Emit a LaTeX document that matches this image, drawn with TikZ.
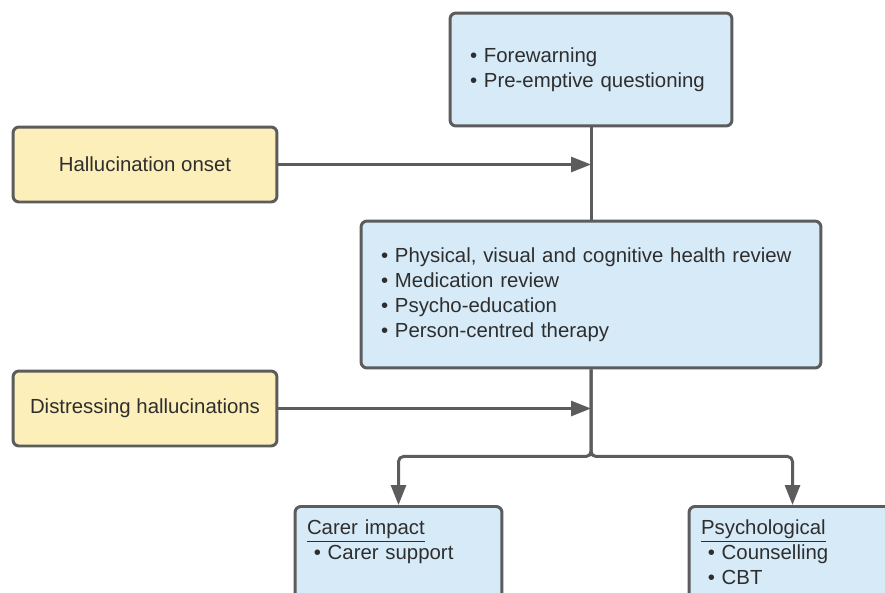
\documentclass[tikz,border=0pt]{standalone}
\usepackage{fontspec}
\setmainfont{Liberation Sans}
\usepackage{tikz}
\usetikzlibrary{arrows.meta,positioning,calc}
\definecolor{boxblue}{HTML}{D6EAF8}
\definecolor{boxyellow}{HTML}{FCEFBA}
\definecolor{edgegray}{HTML}{5C5C5C}
\definecolor{textgray}{HTML}{2E2E2E}
\tikzset{
  basebox/.style={draw=edgegray, line width=1.7pt, rounded corners=0.12cm,
    text=textgray, font=\fontsize{11.6}{14.2}\selectfont},
  bluebox/.style={basebox, fill=boxblue, align=left, inner xsep=0.4cm},
  yellowbox/.style={basebox, fill=boxyellow, align=center,
    minimum width=5.28cm, minimum height=1.5cm},
  outcomebox/.style={bluebox, anchor=north, inner xsep=0.24cm, inner ysep=0.26cm,
    text width=3.66cm, text depth=3cm},
  flow/.style={draw=edgegray, line width=1.7pt},
  flowarrow/.style={flow, -{Triangle[length=0.4cm,width=0.3cm]}, rounded corners=0.1cm},
}
\begin{document}
\begin{tikzpicture}[x=0.02cm,y=-0.02cm]
    \useasboundingbox (0,0) rectangle (885,592);
    \clip (0,0) rectangle (885,592);

        \node[bluebox, minimum width=5.64cm, minimum height=2.26cm, text width=4.84cm]
          (warn) at (591,69.5) {\textbullet\ Forewarning\\ \textbullet\ Pre-emptive questioning};
        \node[yellowbox] (onset) at (145,164.5) {Hallucination onset};
        \node[bluebox, minimum width=9.2cm, minimum height=2.94cm, text width=8.4cm]
          (review) at (591,294.5) {\textbullet\ Physical, visual and cognitive health review\\
            \textbullet\ Medication review\\ \textbullet\ Psycho-education\\
            \textbullet\ Person-centred therapy};
        \node[yellowbox] (distress) at (145,408.5) {Distressing hallucinations};
        \node[outcomebox] (carer) at (398.5,505) {\underline{Carer impact}\\
          \ \textbullet\ Carer support};
        \node[outcomebox] (psych) at (792.5,505) {\underline{Psychological}\\
          \ \textbullet\ Counselling\\ \ \textbullet\ CBT};

        \coordinate (onsetjoin) at (warn.south |- onset.east);
        \coordinate (distressjoin) at (review.south |- distress.east);
        \coordinate (split) at ($(review.south)+(0,87)$);

        \draw[flow] (warn) -- (review);
        \draw[flowarrow] (onset) -- (onsetjoin);
        \draw[flowarrow] (distress) -- (distressjoin);
        \draw[flowarrow] (review.south) -- (split) -| (carer.north);
        \draw[flowarrow] (review.south) -- (split) -| (psych.north);
  \end{tikzpicture}
\end{document}
